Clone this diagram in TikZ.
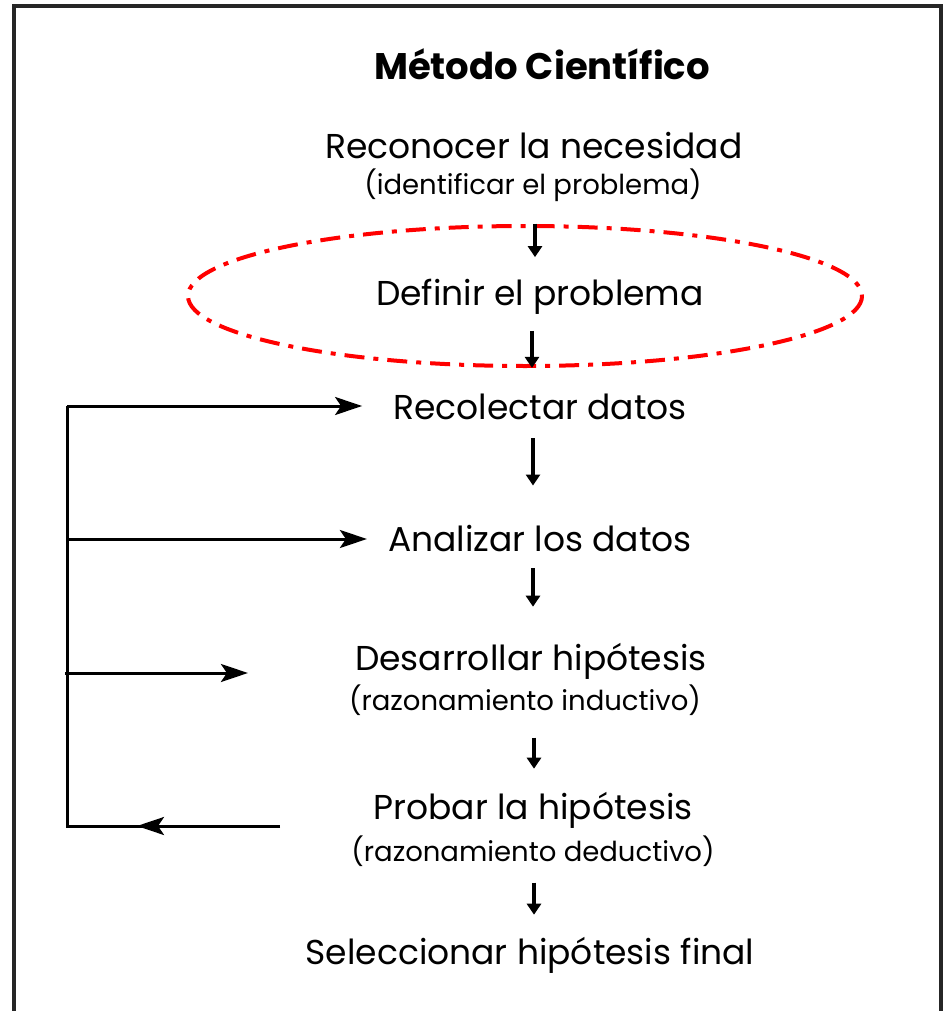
\documentclass[tikz,border=0pt]{standalone}
\usepackage{fontspec}
\setmainfont{Poppins}
\usepackage{tikz}
\usetikzlibrary{
  calc
  , arrows.meta
}

\begin{document}
\begin{tikzpicture}[x=1pt, y=-1pt]
      \tikzstyle{step text}=[inner sep=0pt, font=\fontsize{34.5}{41}\selectfont]
      \tikzstyle{sub text}=[inner sep=0pt, font=\fontsize{27.5}{33}\selectfont]
      \tikzstyle{down arrow}=[line width=3.4pt, -{Triangle[length=11pt, width=14pt]}]
      \tikzstyle{loop arrow}=[line width=3pt, -{Stealth[length=27pt, width=18pt, inset=6pt]}]
      \tikzstyle{highlight}=[red, line width=4pt, dash pattern=on 20pt off 9pt on 5pt off 9pt]

      \useasboundingbox (0,0) rectangle (948,1011);
      \draw [line width=3.6pt, black!85] (14,1011) -- (14,6) -- (941,6) -- (941,1011);

      \node [inner sep=0pt, font=\fontsize{37}{44}\selectfont\bfseries] (title) at (542,64){Método Científico};

      \node [step text] (need) at (534,146){Reconocer la necesidad};
      \node [sub text] (needsub) at (533,185){(identificar el problema)};
      \node [step text] (define) at (540,297){Definir el problema};
      \node [step text] (collect) at (540,407){Recolectar datos};
      \node [step text] (analyse) at (540,539){Analizar los datos};
      \node [step text] (develop) at (531,661){Desarrollar hipótesis};
      \node [sub text] (developsub) at (525,700){(razonamiento inductivo)};
      \node [step text] (test) at (533,810){Probar la hipótesis};
      \node [sub text] (testsub) at (533,851){(razonamiento deductivo)};
      \node [step text] (select) at (530,955){Seleccionar hipótesis final};

      \draw [highlight] (525,296) ellipse [x radius=337, y radius=70];

      \draw [down arrow, shorten <=22pt, shorten >=22pt] (needsub.south -| 535,0) -- (define.north -| 535,0);
      \draw [down arrow, shorten <=16pt, shorten >=26pt] (define.south -| 532,0) -- (collect.north -| 532,0);
      \draw [down arrow, shorten <=18pt, shorten >=40pt] (collect.south -| 533,0) -- (analyse.north -| 533,0);
      \draw [down arrow, shorten <=16pt, shorten >=36pt] (analyse.south -| 533,0) -- (develop.north -| 533,0);
      \draw [down arrow, shorten <=22pt, shorten >=23pt] (developsub.south -| 534,0) -- (test.north -| 534,0);
      \draw [down arrow, shorten <=16pt, shorten >=22pt] (testsub.south -| 534,0) -- (select.north -| 534,0);

      \coordinate (LT) at (67,406);
      \coordinate (LB) at (67,826);
      \coordinate (TS) at (280,826);
      \draw [line width=3pt] (LT) -- (LB) -- (TS);
      \draw [loop arrow, shorten >=31pt] (LT) -- (LT -| collect.west);
      \draw [loop arrow, shorten >=21pt] (LT |- analyse) -- (analyse.west);
      \draw [loop arrow, shorten >=107pt] (65,673) -- (65,673 -| develop.west);
      \draw [loop arrow] (TS) -- (137,826);

    \end{tikzpicture}
\end{document}
